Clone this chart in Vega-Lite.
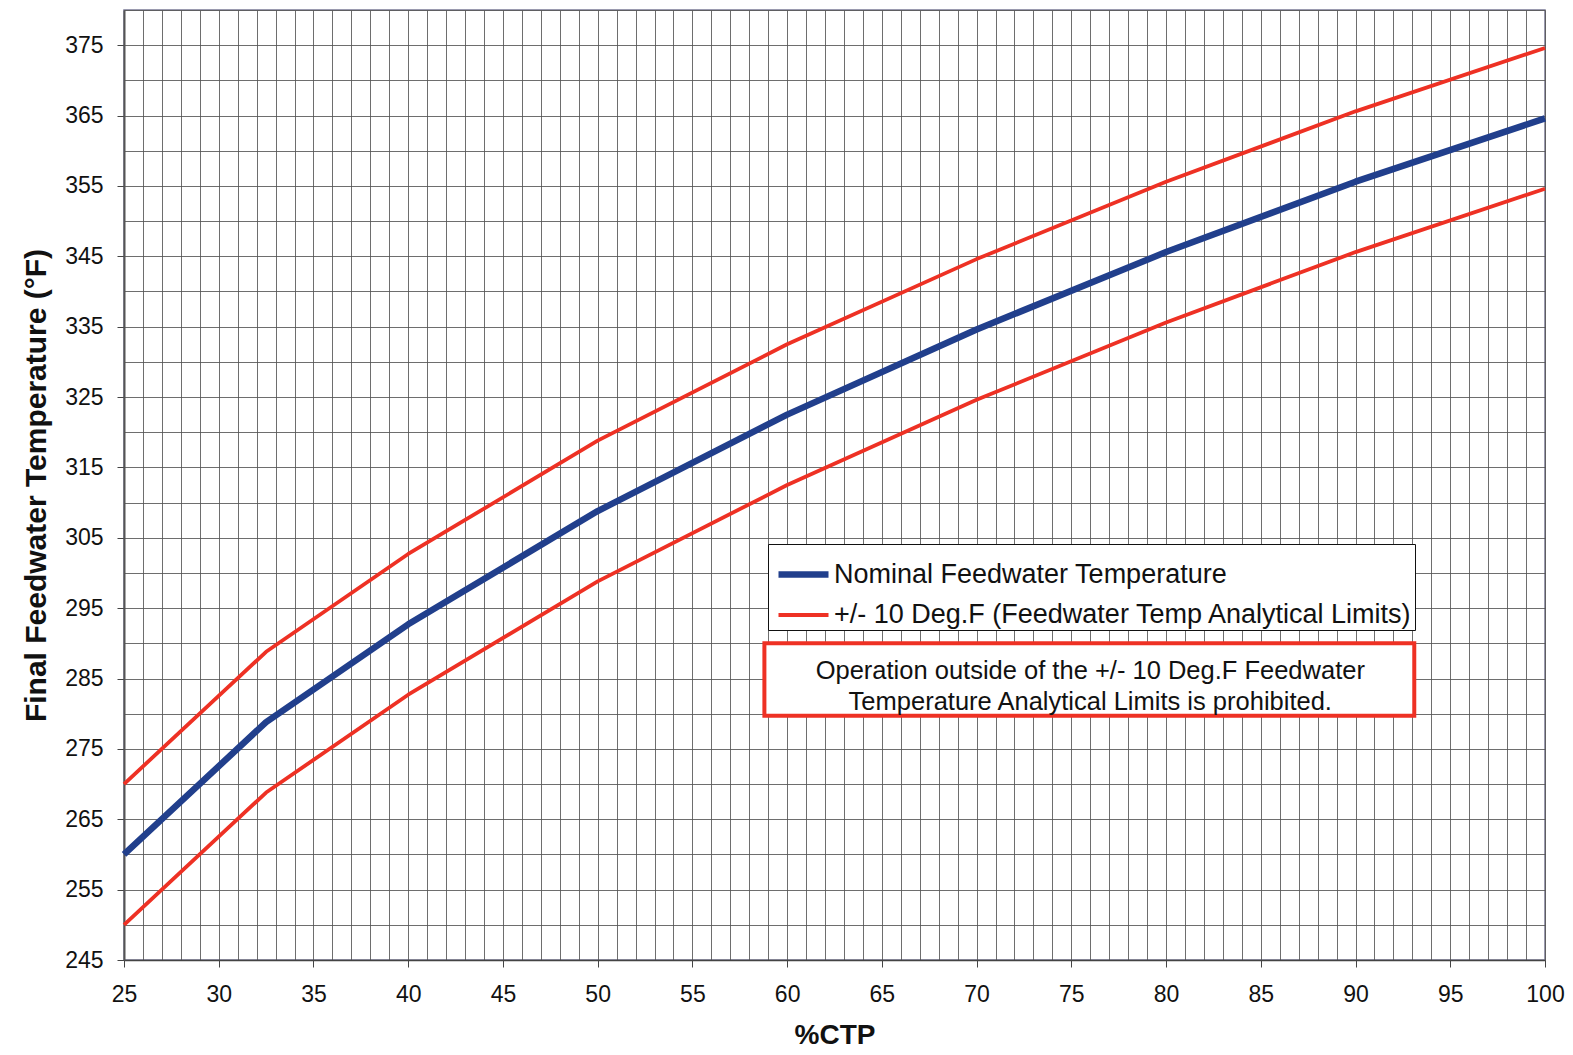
{
  "$schema": "https://vega.github.io/schema/vega-lite/v6.json",
  "width": 1421,
  "height": 950,
  "autosize": {"type": "none"},
  "padding": {"left": 124, "top": 10, "right": 28, "bottom": 95},
  "background": "white",
  "config": {
    "font": "Liberation Sans",
    "view": {"stroke": "#7a7a95", "strokeWidth": 1.5}
  },
  "datasets": {
    "curves": [
      {"pct": 25, "temp": 260, "series": "Nominal Feedwater Temperature", "line": "nom"},
      {"pct": 32.5, "temp": 278.8, "series": "Nominal Feedwater Temperature", "line": "nom"},
      {"pct": 40, "temp": 292.7, "series": "Nominal Feedwater Temperature", "line": "nom"},
      {"pct": 50, "temp": 308.8, "series": "Nominal Feedwater Temperature", "line": "nom"},
      {"pct": 60, "temp": 322.5, "series": "Nominal Feedwater Temperature", "line": "nom"},
      {"pct": 70, "temp": 334.6, "series": "Nominal Feedwater Temperature", "line": "nom"},
      {"pct": 80, "temp": 345.6, "series": "Nominal Feedwater Temperature", "line": "nom"},
      {"pct": 90, "temp": 355.6, "series": "Nominal Feedwater Temperature", "line": "nom"},
      {"pct": 100, "temp": 364.6, "series": "Nominal Feedwater Temperature", "line": "nom"},
      {"pct": 25, "temp": 270, "series": "+/- 10 Deg.F (Feedwater Temp Analytical Limits)", "line": "upper"},
      {"pct": 32.5, "temp": 288.8, "series": "+/- 10 Deg.F (Feedwater Temp Analytical Limits)", "line": "upper"},
      {"pct": 40, "temp": 302.7, "series": "+/- 10 Deg.F (Feedwater Temp Analytical Limits)", "line": "upper"},
      {"pct": 50, "temp": 318.8, "series": "+/- 10 Deg.F (Feedwater Temp Analytical Limits)", "line": "upper"},
      {"pct": 60, "temp": 332.5, "series": "+/- 10 Deg.F (Feedwater Temp Analytical Limits)", "line": "upper"},
      {"pct": 70, "temp": 344.6, "series": "+/- 10 Deg.F (Feedwater Temp Analytical Limits)", "line": "upper"},
      {"pct": 80, "temp": 355.6, "series": "+/- 10 Deg.F (Feedwater Temp Analytical Limits)", "line": "upper"},
      {"pct": 90, "temp": 365.6, "series": "+/- 10 Deg.F (Feedwater Temp Analytical Limits)", "line": "upper"},
      {"pct": 100, "temp": 374.6, "series": "+/- 10 Deg.F (Feedwater Temp Analytical Limits)", "line": "upper"},
      {"pct": 25, "temp": 250, "series": "+/- 10 Deg.F (Feedwater Temp Analytical Limits)", "line": "lower"},
      {"pct": 32.5, "temp": 268.8, "series": "+/- 10 Deg.F (Feedwater Temp Analytical Limits)", "line": "lower"},
      {"pct": 40, "temp": 282.7, "series": "+/- 10 Deg.F (Feedwater Temp Analytical Limits)", "line": "lower"},
      {"pct": 50, "temp": 298.8, "series": "+/- 10 Deg.F (Feedwater Temp Analytical Limits)", "line": "lower"},
      {"pct": 60, "temp": 312.5, "series": "+/- 10 Deg.F (Feedwater Temp Analytical Limits)", "line": "lower"},
      {"pct": 70, "temp": 324.6, "series": "+/- 10 Deg.F (Feedwater Temp Analytical Limits)", "line": "lower"},
      {"pct": 80, "temp": 335.6, "series": "+/- 10 Deg.F (Feedwater Temp Analytical Limits)", "line": "lower"},
      {"pct": 90, "temp": 345.6, "series": "+/- 10 Deg.F (Feedwater Temp Analytical Limits)", "line": "lower"},
      {"pct": 100, "temp": 354.6, "series": "+/- 10 Deg.F (Feedwater Temp Analytical Limits)", "line": "lower"}
    ],
    "notebox": [{"x1": 58.8, "x2": 93.1, "y1": 279.7, "y2": 290.0}],
    "notetext": [
      {"x": 76.0, "y": 286.0, "text": "Operation outside of the +/- 10 Deg.F Feedwater"},
      {"x": 76.0, "y": 281.7, "text": "Temperature Analytical Limits is prohibited."}
    ]
  },
  "layer": [
    {
      "data": {"name": "curves"},
      "mark": {"type": "line", "strokeCap": "butt", "strokeJoin": "round"},
      "encoding": {
        "x": {
          "field": "pct", "type": "quantitative",
          "scale": {"domain": [25, 100], "nice": false, "zero": false},
          "axis": {
            "title": "%CTP",
            "titleFontSize": 28, "titleFontWeight": "bold", "titleColor": "#111", "titlePadding": 15,
            "values": [25,26,27,28,29,30,31,32,33,34,35,36,37,38,39,40,41,42,43,44,45,46,47,48,49,50,51,52,53,54,55,56,57,58,59,60,61,62,63,64,65,66,67,68,69,70,71,72,73,74,75,76,77,78,79,80,81,82,83,84,85,86,87,88,89,90,91,92,93,94,95,96,97,98,99,100],
            "tickCount": 500,
            "format": "d",
            "labelOverlap": false,
            "labelFlush": false,
            "labelExpr": "datum.value % 5 === 0 ? datum.label : ''",
            "labelFontSize": 23, "labelColor": "#111", "labelPadding": 16,
            "tickSize": 7, "tickColor": "#444",
            "tickOpacity": {"condition": {"test": "datum.value % 5 === 0", "value": 1}, "value": 0},
            "grid": true, "gridColor": "#555", "gridWidth": 1, "gridOpacity": 0.85,
            "domainColor": "#444", "domainWidth": 1.5
          }
        },
        "y": {
          "field": "temp", "type": "quantitative",
          "scale": {"domain": [245, 380], "nice": false, "zero": false},
          "axis": {
            "title": "Final Feedwater Temperature (°F)",
            "titleFontSize": 30, "titleFontWeight": "bold", "titleColor": "#111", "titlePadding": 13,
            "values": [245,250,255,260,265,270,275,280,285,290,295,300,305,310,315,320,325,330,335,340,345,350,355,360,365,370,375,380],
            "tickCount": 500,
            "format": "d",
            "labelOverlap": false,
            "labelFlush": false,
            "labelExpr": "(datum.value - 245) % 10 === 0 && datum.value < 380 ? datum.label : ''",
            "labelFontSize": 23, "labelColor": "#111", "labelPadding": 14,
            "tickSize": 7, "tickColor": "#444",
            "tickOpacity": {"condition": {"test": "(datum.value - 245) % 10 === 0 && datum.value < 380", "value": 1}, "value": 0},
            "grid": true, "gridColor": "#555", "gridWidth": 1, "gridOpacity": 0.85,
            "domainColor": "#555", "domainWidth": 2
          }
        },
        "color": {
          "field": "series", "type": "nominal",
          "scale": {
            "domain": ["Nominal Feedwater Temperature", "+/- 10 Deg.F (Feedwater Temp Analytical Limits)"],
            "range": ["#213f8c", "#ee3124"]
          },
          "legend": {
            "title": null, "orient": "none", "legendX": 644, "legendY": 534,
            "direction": "vertical",
            "fillColor": "white", "strokeColor": "#111",
            "padding": 2, "rowPadding": -12, "symbolOffset": 5,
            "symbolType": "stroke", "symbolSize": 2500,
            "labelFontSize": 27, "labelColor": "#111", "labelOffset": 2, "labelLimit": 800
          }
        },
        "strokeWidth": {
          "field": "series", "type": "nominal",
          "scale": {
            "domain": ["Nominal Feedwater Temperature", "+/- 10 Deg.F (Feedwater Temp Analytical Limits)"],
            "range": [6.5, 3.8]
          },
          "legend": null
        },
        "detail": {"field": "line", "type": "nominal"}
      }
    },
    {
      "data": {"name": "notebox"},
      "mark": {"type": "rect", "fill": "white", "stroke": "#ee3124", "strokeWidth": 4},
      "encoding": {
        "x": {"field": "x1", "type": "quantitative"},
        "x2": {"field": "x2"},
        "y": {"field": "y1", "type": "quantitative"},
        "y2": {"field": "y2"}
      }
    },
    {
      "data": {"name": "notetext"},
      "mark": {"type": "text", "fontSize": 25.5, "color": "#111", "align": "center", "baseline": "middle"},
      "encoding": {
        "x": {"field": "x", "type": "quantitative"},
        "y": {"field": "y", "type": "quantitative"},
        "text": {"field": "text"}
      }
    }
  ]
}
